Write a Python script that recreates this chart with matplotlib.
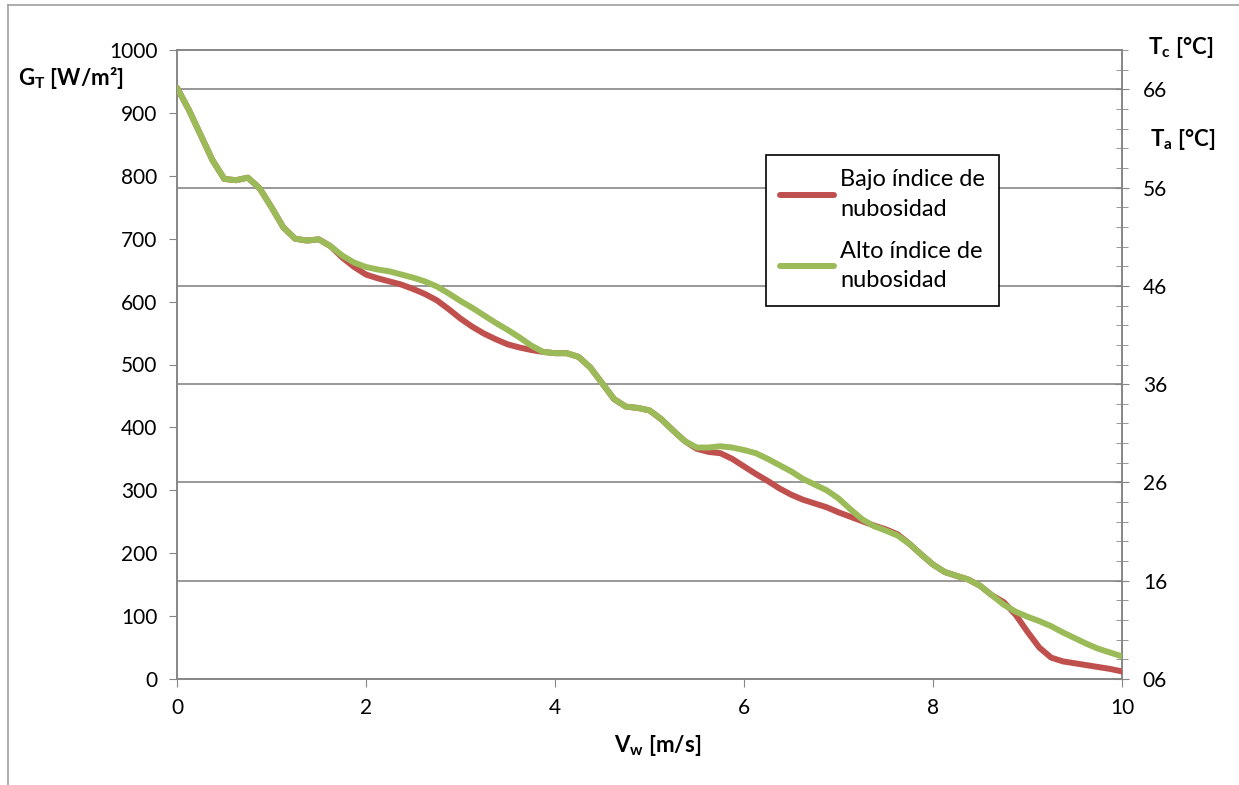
import numpy as np
import matplotlib.pyplot as plt
from matplotlib.ticker import MultipleLocator, FormatStrFormatter
from matplotlib.lines import Line2D

plt.rcParams['font.family'] = ['Lato', 'DejaVu Sans']
plt.rcParams['mathtext.fontset'] = 'custom'
plt.rcParams['mathtext.rm'] = 'Lato'
plt.rcParams['mathtext.bf'] = 'Lato:bold'

# wind speed [m/s]
vw = np.linspace(0, 10, 81)

# G_T [W/m2], low cloud index
bajo = [940, 905, 865, 825, 795, 793, 797, 780, 750, 718,
        700, 697, 699, 688, 670, 655, 643, 637, 632, 627,
        620, 612, 602, 588, 573, 560, 549, 540, 532, 527,
        523, 520, 518, 518, 512, 495, 470, 445, 433, 431,
        427, 413, 395, 378, 366, 361, 359, 350, 338, 326,
        315, 303, 293, 285, 279, 273, 265, 258, 251, 244,
        238, 230, 215, 198, 182, 170, 164, 158, 148, 133,
        122, 102, 75, 50, 34, 28, 25, 22, 19, 16,
        12]

# G_T [W/m2], high cloud index
alto = [940, 905, 865, 825, 795, 793, 797, 780, 750, 718,
        700, 697, 699, 688, 673, 662, 655, 651, 648, 643,
        638, 632, 624, 613, 601, 590, 578, 566, 555, 543,
        530, 520, 518, 518, 512, 495, 470, 445, 433, 431,
        427, 413, 395, 378, 368, 368, 370, 368, 364, 359,
        350, 340, 330, 318, 309, 300, 287, 270, 254, 243,
        236, 228, 215, 198, 182, 170, 164, 158, 148, 133,
        118, 107, 99, 92, 84, 74, 65, 56, 48, 42,
        36]

legend_names = ["Bajo índice de\nnubosidad", "Alto índice de\nnubosidad"]

red = "#C0504D"
green = "#9BBB59"
grey = "#868686"
fs = 15

fig = plt.figure(figsize=(12.39, 7.85), dpi=100)
ax = fig.add_axes([177 / 1239, 106 / 785, 945 / 1239, 629 / 785])
ax2 = ax.twinx()

ax.plot(vw, bajo, color=red, lw=4.3, solid_joinstyle='round', solid_capstyle='round', zorder=3)
ax.plot(vw, alto, color=green, lw=4.3, solid_joinstyle='round', solid_capstyle='round', zorder=4)

ax.set_xlim(0, 10)
ax.set_ylim(0, 1000)
ax.xaxis.set_major_locator(MultipleLocator(2))
ax.yaxis.set_major_locator(MultipleLocator(100))
ax.tick_params(axis='both', direction='out', length=6, color=grey, labelsize=fs, pad=8)

# right axis (temperatures) carries the gridlines
ax2.set_ylim(6, 70)
ax2.set_yticks(np.arange(6, 67, 10))
ax2.yaxis.set_major_formatter(FormatStrFormatter('%02d'))
ax2.yaxis.set_minor_locator(MultipleLocator(2))
ax2.tick_params(axis='y', which='major', direction='inout', length=10, color=grey, labelsize=fs, pad=10)
ax2.tick_params(axis='y', which='minor', direction='inout', length=8, color=grey)
for yy in np.arange(16, 67, 10):
    ax2.axhline(yy, color=grey, lw=1.2, zorder=0)

ax.set_zorder(ax2.get_zorder() + 1)
ax.patch.set_visible(False)

for a in (ax, ax2):
    for s in a.spines.values():
        s.set_color(grey)
        s.set_linewidth(1.2)

lfs = 16
fig.text(18 / 1239, 1 - 78 / 785, r"G$_{\mathbf{T}}$ [W/m²]", fontsize=lfs, fontweight='bold', va='center')
fig.text(1148 / 1239, 1 - 48 / 785, r"T$_{\mathbf{c}}$ [°C]", fontsize=lfs, fontweight='bold', va='center')
fig.text(1150 / 1239, 1 - 140 / 785, r"T$_{\mathbf{a}}$ [°C]", fontsize=lfs, fontweight='bold', va='center')
fig.text(658 / 1239, 1 - 745 / 785, r"V$_{\mathbf{w}}$ [m/s]", fontsize=lfs, fontweight='bold', ha='center', va='center')

handles = [Line2D([], [], color=red, lw=4.3, solid_capstyle='round'),
           Line2D([], [], color=green, lw=4.3, solid_capstyle='round')]
leg = ax.legend(handles, legend_names, loc='upper left', bbox_to_anchor=(0.623, 0.833),
                borderaxespad=0, fontsize=17, fancybox=False, framealpha=1,
                handlelength=2.3, handletextpad=0.25, labelspacing=0.9, borderpad=0.6)
for t in leg.get_texts():
    t.set_linespacing(1.5)
leg.get_frame().set_edgecolor('black')
leg.get_frame().set_linewidth(1.2)

# outer chart border
fig.add_artist(Line2D([8 / 1239, 8 / 1239], [0, 1 - 5 / 785], color='#A0A0A0', lw=1.2))
fig.add_artist(Line2D([8 / 1239, 1], [1 - 5 / 785, 1 - 5 / 785], color='#A0A0A0', lw=1.2))

fig.savefig("out.png", dpi=100)
